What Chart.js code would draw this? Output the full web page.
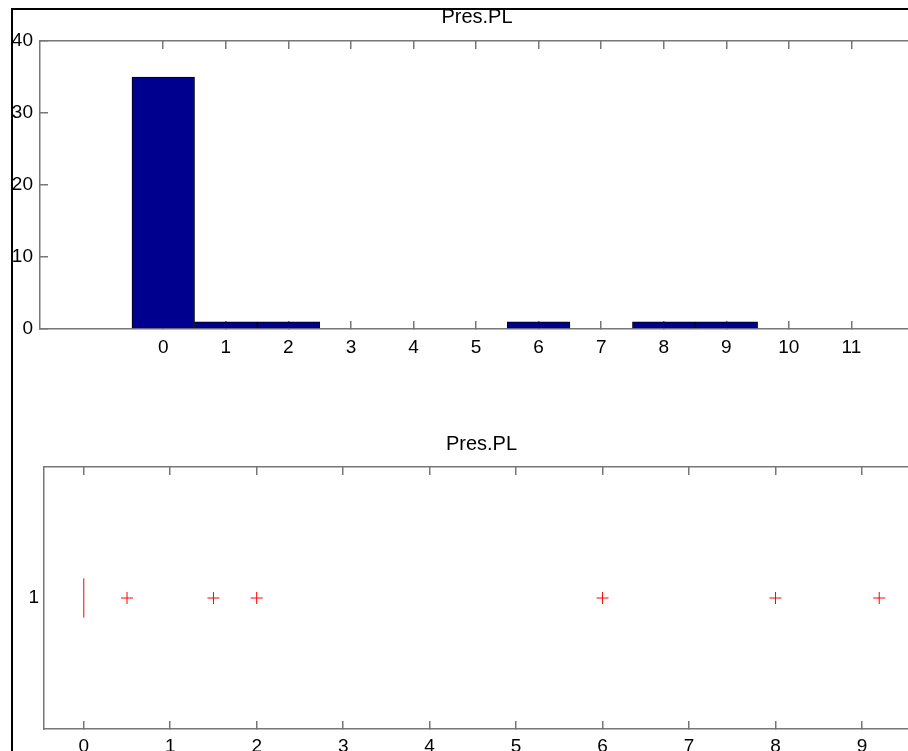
<!DOCTYPE html>
<html>
<head>
<meta charset="utf-8">
<script src="https://cdn.jsdelivr.net/npm/chart.js@4/dist/chart.umd.min.js"></script>
<style>
  body { margin: 0; background: #fff; overflow: hidden; width: 908px; height: 751px; position: relative; }
  canvas { position: absolute; left: 0; }
  #histChart { top: 0; }
  #boxChart { top: 400px; }
  #frame { position: absolute; left: 11px; top: 8px; width: 920px; height: 760px;
           border-left: 2px solid #000; border-top: 2px solid #000; z-index: 5; }
</style>
</head>
<body>
<div id="frame"></div>
<canvas id="histChart" width="930" height="370"></canvas>
<canvas id="boxChart" width="930" height="351"></canvas>
<script>
// Histogram data (bin centres and counts)
const histBins = [0, 1, 2, 3, 4, 5, 6, 7, 8, 9, 10, 11];
const histCounts = [35, 1, 1, 0, 0, 0, 1, 0, 1, 1, 0, 0];
const histYTicks = [0, 10, 20, 30, 40];

// Boxplot data: box collapsed at the median, plus the outliers
const medianValue = 0;
const boxGroup = 1;
const boxSpan = [0.925, 1.075];
const outlierValues = [0.5, 1.5, 2, 6, 8, 9.2];
const boxXTicks = [0, 1, 2, 3, 4, 5, 6, 7, 8, 9];

const titleText = 'Pres.PL';
const fontFamily = '"Liberation Sans", Arial, sans-serif';
const axisColor = '#777';

Chart.defaults.font.family = fontFamily;
Chart.defaults.font.size = 19;
Chart.defaults.color = '#000';

// helper: replace generated ticks with our own list
const useTicks = (list) => (scale) => { scale.ticks = list.map(v => ({ value: v })); };
const fixH = (h) => (scale) => { scale.height = h; };
const fixW = (w) => (scale) => { scale.width = w; };

const edgeAxis = (extra) => Object.assign({
  offset: false,
  border: { display: true, color: axisColor, width: 1.5 },
  grid: { drawOnChartArea: false, drawTicks: true, tickLength: -8, color: axisColor, lineWidth: 1.5, offset: false }
}, extra);

// top: histogram
new Chart(document.getElementById('histChart'), {
  type: 'bar',
  data: {
    datasets: [{
      data: histBins.map((b, i) => ({ x: b, y: histCounts[i] })),
      backgroundColor: '#00008f',
      borderColor: '#000',
      borderWidth: 1,
      barPercentage: 1,
      categoryPercentage: 1
    }]
  },
  options: {
    responsive: false,
    animation: false,
    layout: { padding: { right: 16 } },
    plugins: {
      legend: { display: false },
      tooltip: { enabled: false },
      title: { display: true, text: titleText, fullSize: false,
               font: { size: 20, weight: 'normal' }, padding: { top: 5, bottom: 0 } }
    },
    scales: {
      x: edgeAxis({
        type: 'linear', position: 'bottom', min: -1.97, max: 12,
        ticks: { padding: 15 },
        afterBuildTicks: useTicks(histBins), afterFit: fixH(41)
      }),
      x2: edgeAxis({
        type: 'linear', position: 'top', min: -1.97, max: 12,
        ticks: { display: false },
        afterBuildTicks: useTicks(histBins), afterFit: fixH(12)
      }),
      y: edgeAxis({
        type: 'linear', position: 'left', min: 0, max: 40,
        ticks: { padding: 15 },
        afterBuildTicks: useTicks(histYTicks), afterFit: fixW(40)
      })
    }
  }
});

// bottom: horizontal boxplot
new Chart(document.getElementById('boxChart'), {
  type: 'scatter',
  data: {
    datasets: [{
      data: [{ x: medianValue, y: boxSpan[0] }, { x: medianValue, y: boxSpan[1] }],
      showLine: true,
      borderColor: '#ff0000',
      borderWidth: 1,
      pointRadius: 0
    }, {
      data: outlierValues.map(v => ({ x: v, y: boxGroup })),
      pointStyle: 'cross',
      pointRadius: 6,
      borderColor: '#ff0000',
      backgroundColor: '#ff0000',
      pointBorderWidth: 1
    }]
  },
  options: {
    responsive: false,
    animation: false,
    layout: { padding: { right: 11 } },
    plugins: {
      legend: { display: false },
      tooltip: { enabled: false },
      title: { display: true, text: titleText, fullSize: false,
               font: { size: 20, weight: 'normal' }, padding: { top: 32.5, bottom: 0 } }
    },
    scales: {
      x: edgeAxis({
        type: 'linear', position: 'bottom', min: -0.46, max: 9.66,
        ticks: { padding: 14 },
        afterBuildTicks: useTicks(boxXTicks), afterFit: fixH(22)
      }),
      x2: edgeAxis({
        type: 'linear', position: 'top', min: -0.46, max: 9.66,
        ticks: { display: false },
        afterBuildTicks: useTicks(boxXTicks), afterFit: fixH(10.5)
      }),
      y: {
        type: 'linear', position: 'left', min: 0.5, max: 1.5,
        border: { display: true, color: axisColor, width: 1.5 },
        grid: { display: false, drawTicks: false },
        ticks: { padding: 5 },
        afterBuildTicks: useTicks([boxGroup]), afterFit: fixW(44)
      }
    }
  }
});
</script>
</body>
</html>
